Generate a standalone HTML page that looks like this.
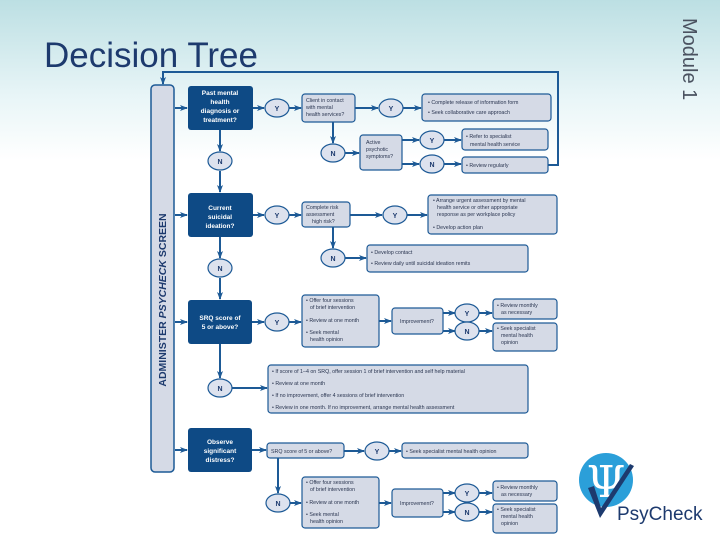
<!DOCTYPE html>
<html><head><meta charset="utf-8"><style>
html,body{margin:0;padding:0;width:720px;height:540px;overflow:hidden;background:#fff}
svg{display:block;font-family:"Liberation Sans",Arial,sans-serif}
</style></head><body>
<svg width="720" height="540" viewBox="0 0 720 540" xmlns="http://www.w3.org/2000/svg">
<defs>
<linearGradient id="bg" x1="0" y1="0" x2="0" y2="1">
<stop offset="0" stop-color="#bcdfe3"/><stop offset="0.6" stop-color="#e8f5f7"/><stop offset="1" stop-color="#ffffff"/>
</linearGradient>
<marker id="ar" markerWidth="8" markerHeight="8" refX="7" refY="4" orient="auto" markerUnits="userSpaceOnUse">
<path d="M0,1 L8,4 L0,7 L2,4 Z" fill="#1d5a96"/></marker>
</defs>
<rect x="0" y="0" width="720" height="160" fill="url(#bg)"/>
<text x="44" y="67" font-size="35" fill="#1d3a6e">Decision Tree</text>
<text transform="translate(683,18) rotate(90)" font-size="20" fill="#4a5260">Module 1</text>

<g stroke="#1d5a96" stroke-width="2" fill="none">
<polyline points="548,165 558,165 558,72 163,72 163,84" marker-end="url(#ar)"/>
<line x1="175" y1="108" x2="187" y2="108" marker-end="url(#ar)"/>
<line x1="175" y1="215" x2="187" y2="215" marker-end="url(#ar)"/>
<line x1="175" y1="322" x2="187" y2="322" marker-end="url(#ar)"/>
<line x1="175" y1="450" x2="187" y2="450" marker-end="url(#ar)"/>
<line x1="253" y1="108" x2="264" y2="108" marker-end="url(#ar)"/>
<line x1="289" y1="108" x2="301" y2="108" marker-end="url(#ar)"/>
<line x1="355" y1="108" x2="378" y2="108" marker-end="url(#ar)"/>
<line x1="403" y1="108" x2="421" y2="108" marker-end="url(#ar)"/>
<line x1="333" y1="122" x2="333" y2="143" marker-end="url(#ar)"/>
<line x1="345" y1="153" x2="359" y2="153" marker-end="url(#ar)"/>
<line x1="402" y1="140" x2="419" y2="140" marker-end="url(#ar)"/>
<line x1="402" y1="164" x2="419" y2="164" marker-end="url(#ar)"/>
<line x1="444" y1="140" x2="461" y2="140" marker-end="url(#ar)"/>
<line x1="444" y1="164" x2="461" y2="164" marker-end="url(#ar)"/>
<line x1="220" y1="130" x2="220" y2="151" marker-end="url(#ar)"/>
<line x1="220" y1="171" x2="220" y2="192" marker-end="url(#ar)"/>
<line x1="253" y1="215" x2="264" y2="215" marker-end="url(#ar)"/>
<line x1="289" y1="215" x2="301" y2="215" marker-end="url(#ar)"/>
<line x1="350" y1="215" x2="382" y2="215" marker-end="url(#ar)"/>
<line x1="407" y1="215" x2="427" y2="215" marker-end="url(#ar)"/>
<line x1="333" y1="227" x2="333" y2="248" marker-end="url(#ar)"/>
<line x1="345" y1="258" x2="366" y2="258" marker-end="url(#ar)"/>
<line x1="220" y1="237" x2="220" y2="258" marker-end="url(#ar)"/>
<line x1="220" y1="278" x2="220" y2="299" marker-end="url(#ar)"/>
<line x1="252" y1="322" x2="264" y2="322" marker-end="url(#ar)"/>
<line x1="289" y1="322" x2="301" y2="322" marker-end="url(#ar)"/>
<line x1="379" y1="321" x2="391" y2="321" marker-end="url(#ar)"/>
<line x1="443" y1="313" x2="455" y2="313" marker-end="url(#ar)"/>
<line x1="443" y1="331" x2="455" y2="331" marker-end="url(#ar)"/>
<line x1="479" y1="313" x2="492" y2="313" marker-end="url(#ar)"/>
<line x1="479" y1="331" x2="492" y2="331" marker-end="url(#ar)"/>
<line x1="220" y1="344" x2="220" y2="378" marker-end="url(#ar)"/>
<line x1="232" y1="388" x2="267" y2="388" marker-end="url(#ar)"/>
<line x1="252" y1="450" x2="266" y2="450" marker-end="url(#ar)"/>
<line x1="344" y1="451" x2="364" y2="451" marker-end="url(#ar)"/>
<line x1="389" y1="451" x2="401" y2="451" marker-end="url(#ar)"/>
<line x1="278" y1="458" x2="278" y2="493" marker-end="url(#ar)"/>
<line x1="290" y1="503" x2="301" y2="503" marker-end="url(#ar)"/>
<line x1="379" y1="503" x2="391" y2="503" marker-end="url(#ar)"/>
<line x1="443" y1="493" x2="455" y2="493" marker-end="url(#ar)"/>
<line x1="443" y1="512" x2="455" y2="512" marker-end="url(#ar)"/>
<line x1="479" y1="493" x2="492" y2="493" marker-end="url(#ar)"/>
<line x1="479" y1="512" x2="492" y2="512" marker-end="url(#ar)"/>
</g>

<rect x="151" y="85" width="23" height="387" rx="4" fill="#d5dae6" stroke="#1d5a96" stroke-width="1.5"/>
<text transform="translate(166,300) rotate(-90)" text-anchor="middle" font-size="10.5" font-weight="bold" fill="#1d3a6e">ADMINISTER <tspan font-style="italic">PSYCHECK</tspan> SCREEN</text>

<g fill="#0e4a85">
<rect x="188" y="86" width="65" height="44" rx="3"/>
<rect x="188" y="193" width="65" height="44" rx="3"/>
<rect x="188" y="300" width="64" height="44" rx="3"/>
<rect x="188" y="428" width="64" height="44" rx="3"/>
</g>
<g fill="#fff" font-size="6.5" font-weight="bold" text-anchor="middle">
<text x="220" y="95">Past mental</text><text x="220" y="104">health</text><text x="220" y="113">diagnosis or</text><text x="220" y="122">treatment?</text>
<text x="220" y="210">Current</text><text x="220" y="219">suicidal</text><text x="220" y="228">ideation?</text>
<text x="220" y="320">SRQ score of</text><text x="220" y="329">5 or above?</text>
<text x="220" y="444">Observe</text><text x="220" y="453">significant</text><text x="220" y="462">distress?</text>
</g>

<g fill="#d5dae6" stroke="#1d5a96" stroke-width="1.2">
<rect x="302" y="94" width="53" height="28" rx="3"/>
<rect x="422" y="94" width="129" height="27" rx="3"/>
<rect x="360" y="135" width="42" height="35" rx="3"/>
<rect x="462" y="129" width="86" height="21" rx="3"/>
<rect x="462" y="157" width="86" height="16" rx="3"/>
<rect x="302" y="202" width="48" height="25" rx="3"/>
<rect x="428" y="195" width="129" height="39" rx="3"/>
<rect x="367" y="245" width="161" height="27" rx="3"/>
<rect x="302" y="295" width="77" height="52" rx="3"/>
<rect x="392" y="308" width="51" height="26" rx="3"/>
<rect x="493" y="299" width="64" height="20" rx="3"/>
<rect x="493" y="323" width="64" height="28" rx="3"/>
<rect x="268" y="365" width="260" height="48" rx="3"/>
<rect x="267" y="443" width="77" height="15" rx="3"/>
<rect x="402" y="443" width="126" height="15" rx="3"/>
<rect x="302" y="477" width="77" height="51" rx="3"/>
<rect x="392" y="489" width="51" height="28" rx="3"/>
<rect x="493" y="481" width="64" height="20" rx="3"/>
<rect x="493" y="504" width="64" height="29" rx="3"/>
</g>

<g fill="#dde2ee" stroke="#1d5a96" stroke-width="1.2">
<ellipse cx="277" cy="108" rx="12" ry="9"/><ellipse cx="391" cy="108" rx="12" ry="9"/>
<ellipse cx="333" cy="153" rx="12" ry="9"/><ellipse cx="432" cy="140" rx="12" ry="9"/>
<ellipse cx="432" cy="164" rx="12" ry="9"/><ellipse cx="220" cy="161" rx="12" ry="9"/>
<ellipse cx="277" cy="215" rx="12" ry="9"/><ellipse cx="395" cy="215" rx="12" ry="9"/>
<ellipse cx="333" cy="258" rx="12" ry="9"/><ellipse cx="220" cy="268" rx="12" ry="9"/>
<ellipse cx="277" cy="322" rx="12" ry="9"/><ellipse cx="467" cy="313" rx="12" ry="9"/>
<ellipse cx="467" cy="331" rx="12" ry="9"/><ellipse cx="220" cy="388" rx="12" ry="9"/>
<ellipse cx="377" cy="451" rx="12" ry="9"/><ellipse cx="278" cy="503" rx="12" ry="9"/>
<ellipse cx="467" cy="493" rx="12" ry="9"/><ellipse cx="467" cy="512" rx="12" ry="9"/>
</g>
<g fill="#1d3a6e" font-size="7" font-weight="bold" text-anchor="middle">
<text x="277" y="111">Y</text><text x="391" y="111">Y</text><text x="333" y="156">N</text>
<text x="432" y="143">Y</text><text x="432" y="167">N</text><text x="220" y="164">N</text>
<text x="277" y="218">Y</text><text x="395" y="218">Y</text><text x="333" y="261">N</text>
<text x="220" y="271">N</text><text x="277" y="325">Y</text><text x="467" y="316">Y</text>
<text x="467" y="334">N</text><text x="220" y="391">N</text><text x="377" y="454">Y</text>
<text x="278" y="506">N</text><text x="467" y="496">Y</text><text x="467" y="515">N</text>
</g>

<g fill="#2a3550" font-size="5.3">
<text x="306" y="102">Client in contact</text><text x="306" y="109">with mental</text><text x="306" y="116">health services?</text>
<text x="428" y="104">• Complete release of information form</text><text x="428" y="114">• Seek collaborative care approach</text>
<text x="366" y="144">Active</text><text x="366" y="151">psychotic</text><text x="366" y="158">symptoms?</text>
<text x="466" y="138">• Refer to specialist</text><text x="470" y="146">mental health service</text>
<text x="466" y="167">• Review regularly</text>
<text x="306" y="209">Complete risk</text><text x="306" y="216">assessment</text><text x="312" y="223">high risk?</text>
<text x="433" y="202">• Arrange urgent assessment by mental</text><text x="437" y="209">health service or other appropriate</text><text x="437" y="216">response as per workplace policy</text><text x="433" y="229">• Develop action plan</text>
<text x="371" y="254">• Develop contact</text><text x="371" y="265">• Review daily until suicidal ideation remits</text>
<text x="306" y="302">• Offer four sessions</text><text x="310" y="309">of brief intervention</text><text x="306" y="322">• Review at one month</text><text x="306" y="334">• Seek mental</text><text x="310" y="341">health opinion</text>
<text x="400" y="323">Improvement?</text>
<text x="497" y="307">• Review monthly</text><text x="501" y="314">as necessary</text>
<text x="497" y="330">• Seek specialist</text><text x="501" y="337">mental health</text><text x="501" y="344">opinion</text>
<text x="272" y="373">• If score of 1–4 on SRQ, offer session 1 of brief intervention and self help material</text>
<text x="272" y="385">• Review at one month</text>
<text x="272" y="397">• If no improvement, offer 4 sessions of brief intervention</text>
<text x="272" y="409">• Review in one month. If no improvement, arrange mental health assessment</text>
<text x="271" y="453">SRQ score of 5 or above?</text>
<text x="406" y="453">• Seek specialist mental health opinion</text>
<text x="306" y="484">• Offer four sessions</text><text x="310" y="491">of brief intervention</text><text x="306" y="504">• Review at one month</text><text x="306" y="516">• Seek mental</text><text x="310" y="523">health opinion</text>
<text x="400" y="505">Improvement?</text>
<text x="497" y="489">• Review monthly</text><text x="501" y="496">as necessary</text>
<text x="497" y="511">• Seek specialist</text><text x="501" y="518">mental health</text><text x="501" y="525">opinion</text>
</g>

<circle cx="606" cy="480" r="27" fill="#2b9fd9"/>
<text x="606" y="497" text-anchor="middle" font-size="44" fill="#fff" font-family="DejaVu Serif,serif">Ψ</text>
<path d="M588,488 L600,518 L634,466 L630,464 L601,508 L594,486 Z" fill="#1d3a6e"/>
<text x="617" y="520" font-size="19" fill="#1d3a6e">PsyCheck</text>
</svg>
</body></html>
